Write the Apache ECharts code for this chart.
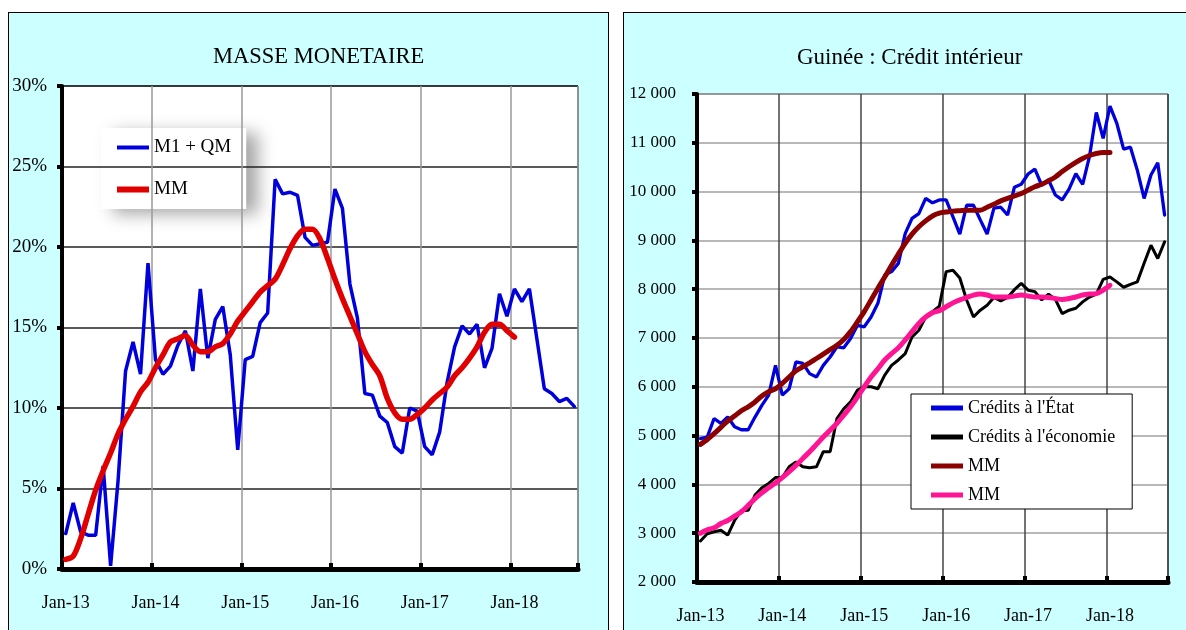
<!DOCTYPE html>
<html>
<head>
<meta charset="utf-8">
<script src="https://cdn.jsdelivr.net/npm/echarts@6/dist/echarts.min.js"></script>
<style>
  body { margin: 0; background: #fff; width: 1186px; height: 630px; overflow: hidden; position: relative; }
  .panel { position: absolute; top: 12px; height: 640px; background: #ccffff; border: 1px solid #000; }
  #left { left: 8px; width: 599px; }
  #right { left: 623px; width: 600px; }
  .chart { width: 100%; height: 630px; }
</style>
</head>
<body>
<div class="panel" id="left"><div class="chart" id="masse"></div></div>
<div class="panel" id="right"><div class="chart" id="credit"></div></div>
<script>
// mois de janvier 2013 a septembre 2018
const moisNoms = ["Jan", "Feb", "Mar", "Apr", "May", "Jun", "Jul", "Aug", "Sep", "Oct", "Nov", "Dec"];
const annees = ["13", "14", "15", "16", "17", "18"];
const nbMois = 69;

// masse monetaire, glissement annuel en %
const m1qm = [2.2, 4.1, 2.3, 2.1, 2.1, 6.4, 0.2, 5.5, 12.3, 14.1, 12.1, 19.0, 13.0, 12.1, 12.6, 13.9, 14.8, 12.3, 17.4, 13.1,
  15.5, 16.3, 13.3, 7.4, 13.0, 13.2, 15.3, 15.9, 24.2, 23.3, 23.4, 23.2, 20.6, 20.1, 20.2, 20.3, 23.6, 22.4, 17.7, 15.6,
  10.9, 10.8, 9.5, 9.1, 7.6, 7.2, 10.0, 9.8, 7.6, 7.1, 8.5, 11.6, 13.8, 15.1, 14.6, 15.2, 12.5, 13.7, 17.1, 15.7,
  17.4, 16.6, 17.4, 14.3, 11.2, 10.9, 10.4, 10.6, 10.1];
const mmMasse = [0.6, 0.8, 1.9, 3.4, 4.9, 6.1, 7.2, 8.4, 9.3, 10.1, 11.0, 11.6, 12.5, 13.3, 14.1, 14.3, 14.5, 13.9, 13.5, 13.5,
  13.8, 14.0, 14.6, 15.4, 16.0, 16.6, 17.2, 17.6, 18.0, 18.9, 19.9, 20.7, 21.1, 21.1, 20.5, 19.3, 18.0, 16.8, 15.7, 14.6,
  13.5, 12.7, 12.0, 10.6, 9.7, 9.3, 9.3, 9.6, 10.0, 10.5, 10.9, 11.3, 12.0, 12.5, 13.1, 13.8, 14.7, 15.2, 15.2, 14.8, 14.4];

// credit interieur (milliards GNF)
const creditEtat = [4940, 4970, 5350, 5250, 5380, 5180, 5120, 5120, 5380, 5620, 5830, 6440, 5830, 5960, 6510, 6480, 6270, 6200, 6440, 6610,
  6820, 6800, 6990, 7260, 7230, 7430, 7710, 8290, 8360, 8530, 9140, 9450, 9550, 9860, 9770, 9830, 9830, 9480, 9130, 9720,
  9720, 9420, 9130, 9660, 9680, 9520, 10090, 10150, 10360, 10460, 10130, 10240, 9930, 9830, 10050, 10370, 10150, 10720, 11620, 11090,
  11750, 11400, 10870, 10910, 10440, 9860, 10340, 10590, 9520];
const creditEco = [2840, 2990, 3030, 3060, 2960, 3260, 3460, 3470, 3780, 3930, 4020, 4140, 4140, 4360, 4460, 4360, 4340, 4360, 4670, 4670,
  5350, 5550, 5690, 5930, 6000, 6000, 5960, 6240, 6440, 6550, 6680, 7020, 7160, 7430, 7540, 7650, 8360, 8390, 8230, 7780,
  7430, 7570, 7670, 7830, 7760, 7830, 7990, 8120, 7980, 7950, 7780, 7900, 7790, 7500, 7570, 7610, 7740, 7840, 7900, 8200,
  8250, 8150, 8040, 8100, 8150, 8530, 8900, 8630, 8970];
const mmEtat = [4820, 4920, 5040, 5170, 5300, 5400, 5510, 5590, 5690, 5810, 5900, 5960, 6070, 6200, 6330, 6410, 6490, 6580, 6670, 6760,
  6850, 6970, 7130, 7330, 7540, 7780, 8020, 8250, 8490, 8720, 8940, 9130, 9280, 9400, 9500, 9560, 9580, 9600, 9610, 9620,
  9620, 9620, 9680, 9740, 9810, 9860, 9910, 9960, 10030, 10100, 10150, 10220, 10300, 10410, 10510, 10600, 10680, 10740, 10780, 10800, 10800];
const mmEco = [3000, 3070, 3110, 3200, 3260, 3350, 3440, 3570, 3710, 3830, 3930, 4030, 4140, 4260, 4390, 4530, 4670, 4820, 4970, 5110,
  5250, 5420, 5590, 5790, 6000, 6200, 6370, 6550, 6680, 6800, 6960, 7130, 7300, 7430, 7520, 7560, 7640, 7720, 7780, 7830,
  7880, 7900, 7880, 7840, 7840, 7840, 7860, 7880, 7860, 7840, 7840, 7830, 7810, 7790, 7810, 7840, 7880, 7900, 7910, 7980, 8080];

const mois = [];
annees.forEach(a => moisNoms.forEach(m => mois.push(m + "-" + a)));
mois.length = nbMois;

const police = "'Liberation Serif', 'Times New Roman', serif";

// trait horizontal pour la legende (pas de rond)
const trait = epaisseur => "path://M0,0h32v" + epaisseur + "h-32z";

function axeX(marge, couleurGrille) {
  return {
    type: "category",
    data: mois,
    boundaryGap: true,
    axisLine: { onZero: false, lineStyle: { color: "#000", width: 5 } },
    axisTick: { show: true, inside: true, interval: 11, length: 6, lineStyle: { color: "#000", width: 4 } },
    axisLabel: { interval: 11, margin: marge, color: "#000", fontFamily: police, fontSize: 18 },
    splitLine: { show: true, interval: 11, lineStyle: { color: couleurGrille, width: 1.5 } }
  };
}

// ---------- MASSE MONETAIRE ----------
let masse = echarts.init(document.getElementById("masse"));
masse.setOption({
  animation: false,
  title: {
    text: "MASSE MONETAIRE",
    left: 204,
    top: 33,
    padding: 0,
    textStyle: { fontFamily: police, fontSize: 22.5, fontWeight: "normal", color: "#000" }
  },
  graphic: [
    // fond blanc de la zone de trace, sous la legende
    { type: "rect", z: -10, silent: true, shape: { x: 53, y: 73, width: 516, height: 483 }, style: { fill: "#fff" } }
  ],
  legend: {
    orient: "vertical",
    left: 92,
    top: 115,
    z: -5,
    padding: [10, 15, 10, 16],
    itemGap: 23,
    itemWidth: 32,
    itemHeight: 14,
    backgroundColor: "#fff",
    shadowBlur: 16,
    shadowColor: "rgba(0,0,0,0.35)",
    shadowOffsetX: 12,
    shadowOffsetY: 5,
    textStyle: { fontFamily: police, fontSize: 19, lineHeight: 19, color: "#000" },
    data: [
      { name: "M1 + QM", icon: trait(4) },
      { name: "MM", icon: trait(6) }
    ]
  },
  grid: { left: 53, top: 73, width: 516, height: 483, show: true, borderColor: "#000", borderWidth: 1, backgroundColor: "transparent" },
  xAxis: axeX(25, "#999"),
  yAxis: {
    type: "value",
    min: 0,
    max: 30,
    interval: 5,
    axisLine: { show: true, lineStyle: { color: "#000", width: 4 } },
    axisTick: { show: true, length: 5, lineStyle: { color: "#000", width: 4 } },
    axisLabel: { formatter: "{value}%", margin: 15, color: "#000", fontFamily: police, fontSize: 19 },
    splitLine: { lineStyle: { color: "#222", width: 1.5 } }
  },
  series: [
    {
      name: "M1 + QM",
      type: "line",
      data: m1qm,
      symbol: "none",
      z: 3,
      itemStyle: { color: "#0000dd" },
      lineStyle: { color: "#0000dd", width: 3.5, cap: "round" }
    },
    {
      name: "MM",
      type: "line",
      data: mmMasse,
      symbol: "none",
      smooth: 0.3,
      z: 4,
      itemStyle: { color: "#e00000" },
      lineStyle: { color: "#e00000", width: 5.5, cap: "round" }
    }
  ]
});

// ---------- Guinée : Crédit intérieur ----------
let credit = echarts.init(document.getElementById("credit"));
credit.setOption({
  animation: false,
  title: {
    text: "Guinée : Crédit intérieur",
    left: 173,
    top: 33,
    padding: 0,
    textStyle: { fontFamily: police, fontSize: 23, fontWeight: "normal", color: "#000" }
  },
  legend: {
    orient: "vertical",
    left: 287,
    top: 381,
    padding: [5, 17, 5, 20],
    itemGap: 11,
    itemWidth: 32,
    itemHeight: 14,
    backgroundColor: "#fff",
    borderColor: "#000",
    borderWidth: 1,
    textStyle: { fontFamily: police, fontSize: 18, lineHeight: 18, color: "#000" },
    formatter: nom => (nom.indexOf("MM") === 0 ? "MM" : nom),
    data: [
      { name: "Crédits à l'État", icon: trait(5) },
      { name: "Crédits à l'économie", icon: trait(5) },
      { name: "MM État", icon: trait(5) },
      { name: "MM économie", icon: trait(5) }
    ]
  },
  grid: { left: 73, top: 81, width: 471, height: 488, show: true, borderColor: "#000", borderWidth: 1, backgroundColor: "#fff" },
  xAxis: axeX(25, "#444"),
  yAxis: {
    type: "value",
    min: 2000,
    max: 12000,
    interval: 1000,
    axisLine: { show: true, lineStyle: { color: "#000", width: 4 } },
    axisTick: { show: true, length: 5, lineStyle: { color: "#000", width: 4 } },
    axisLabel: {
      margin: 21,
      color: "#000",
      fontFamily: police,
      fontSize: 17,
      formatter: v => String(v).replace(/\B(?=(\d{3})+(?!\d))/g, " ")
    },
    splitLine: { lineStyle: { color: "#a0a0a0", width: 1.5 } }
  },
  series: [
    {
      name: "Crédits à l'État",
      type: "line",
      data: creditEtat,
      symbol: "none",
      itemStyle: { color: "#0000dd" },
      lineStyle: { color: "#0000dd", width: 3.3, cap: "round" }
    },
    {
      name: "Crédits à l'économie",
      type: "line",
      data: creditEco,
      symbol: "none",
      itemStyle: { color: "#000" },
      lineStyle: { color: "#000", width: 3, cap: "round" }
    },
    {
      name: "MM État",
      type: "line",
      data: mmEtat,
      symbol: "none",
      smooth: 0.3,
      itemStyle: { color: "#8b0000" },
      lineStyle: { color: "#8b0000", width: 5, cap: "round" }
    },
    {
      name: "MM économie",
      type: "line",
      data: mmEco,
      symbol: "none",
      smooth: 0.3,
      itemStyle: { color: "#ff1493" },
      lineStyle: { color: "#ff1493", width: 5, cap: "round" }
    }
  ]
});
</script>
</body>
</html>
